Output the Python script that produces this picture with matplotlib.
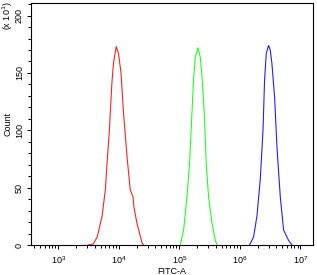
import numpy as np
import matplotlib
matplotlib.use("Agg")
import matplotlib.pyplot as plt
from matplotlib.ticker import LogLocator, MultipleLocator, NullFormatter

plt.rcParams['font.family'] = ['Liberation Sans', 'DejaVu Sans']

# red histogram (FITC-A value, count)
red_x = [3100, 3800, 4400, 5300, 6000, 6400, 7000, 7700, 8200, 9100, 9900,
         10900, 12000, 13700, 15500, 17200, 17800, 20000, 24200, 25700]
red_y = [0, 1, 7, 25, 48, 71, 100, 141, 159, 173, 167,
         150, 115, 77, 48, 42, 33, 19, 2, 0]

# green histogram
green_x = [104000, 118000, 134000, 148000, 162000, 172000, 184000, 204000,
           222000, 240000, 259000, 279000, 305000, 347000, 394000, 420000]
green_y = [0, 13, 42, 71, 115, 144, 164, 172, 164, 144, 115, 71, 42, 19, 4, 0]

# blue histogram
blue_x = [1.45e6, 1.69e6, 1.92e6, 2.18e6, 2.42e6, 2.57e6, 2.74e6, 2.99e6,
          3.19e6, 3.40e6, 3.76e6, 4.12e6, 4.67e6, 5.30e6, 6.41e6, 7.29e6]
blue_y = [0, 7, 25, 57, 100, 144, 167, 174, 170, 158, 129, 85, 42, 13, 4, 0]

y_ticks = [0, 50, 100, 150, 200]

fig = plt.figure(figsize=(3.17, 2.75), dpi=100)
ax = fig.add_axes([31/317, 30/275, 282/317, 242/275])

ax.plot(red_x, red_y, color='#ff2020', lw=0.8)
ax.plot(green_x, green_y, color='#20ff20', lw=0.8)
ax.plot(blue_x, blue_y, color='#2020ff', lw=0.8)

ax.set_xscale('log')
ax.set_xlim(10**2.55, 10**7.21)
ax.set_ylim(0, 211)

ax.xaxis.set_major_locator(LogLocator(base=10, numticks=10))
ax.xaxis.set_minor_locator(LogLocator(base=10, subs=np.arange(2, 10), numticks=20))
ax.xaxis.set_minor_formatter(NullFormatter())
ax.set_yticks(y_ticks)
ax.set_yticklabels([str(v) for v in y_ticks], rotation=90, va='center')
ax.yaxis.set_minor_locator(MultipleLocator(10))

ax.tick_params(which='major', length=3, width=0.7, labelsize=6.5, pad=2, color='black')
ax.tick_params(axis='x', which='major', pad=3.5)
ax.tick_params(which='minor', length=2, width=0.7, color='black')
for s in ax.spines.values():
    s.set_linewidth(0.8)

ax.set_xlabel('FITC-A', fontsize=6.5, labelpad=1)
ax.set_ylabel('Count', fontsize=6.5, labelpad=2)
fig.text(8/317, 1 - 16/275, '(x 10$^1$)', rotation=90, fontsize=6.5,
         ha='center', va='center')

fig.savefig('out.png', dpi=100)
